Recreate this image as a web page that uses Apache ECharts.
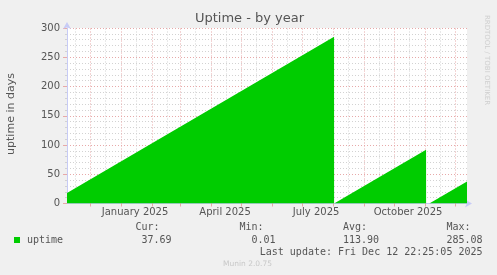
<!DOCTYPE html>
<html>
<head>
<meta charset="utf-8">
<script src="https://cdn.jsdelivr.net/npm/echarts@6/dist/echarts.min.js"></script>
<style>
html,body{margin:0;padding:0;background:#f0f0f0;}
#c{width:497px;height:275px;}
</style>
</head>
<body>
<div id="c"></div>
<script>
// ---- data ----
const uptimeTimes = ['2024-11-07 22:25', '2025-08-02 00:00', '2025-08-02 01:00', '2025-11-02 00:00', '2025-11-02 01:00', '2025-11-05 05:51', '2025-12-12 22:25'];
const uptimeDays  = [18.0, 285.08, 0.01, 91.8, 0, 0.01, 37.69];
const xLabelDates = ['2025-01-15 00:00', '2025-04-15 00:00', '2025-07-15 00:00', '2025-10-15 00:00'];
const xLabelTexts = ['January 2025', 'April 2025', 'July 2025', 'October 2025'];
const yTicks = [0, 50, 100, 150, 200, 250, 300];
const statLabels = ['Cur:', 'Min:', 'Avg:', 'Max:'];
const statValues = ['37.69', '0.01', '113.90', '285.08'];
const seriesName = 'uptime';
const lastUpdate = 'Last update: Fri Dec 12 22:25:05 2025';
const rangeStart = '2024-11-07 22:25';
const rangeEnd = '2025-12-12 22:25';

function ts(s){
  const [d,t] = s.split(' ');
  const [y,m,dd] = d.split('-').map(Number);
  const [hh,mm] = t.split(':').map(Number);
  return Date.UTC(y, m-1, dd, hh, mm);
}
const xMin = ts(rangeStart), xMax = ts(rangeEnd);
const seriesData = uptimeTimes.map((t,i)=>[ts(t), uptimeDays[i]]);
const labelVals = xLabelDates.map(ts);

// grid lines: 1st of each month (major), 16th (minor)
const majorX = [], minorX = [];
for (let y = 2024; y <= 2025; y++) {
  for (let m = 0; m < 12; m++) {
    const a = Date.UTC(y, m, 1), b = Date.UTC(y, m, 16);
    if (a > xMin && a < xMax) majorX.push(a);
    if (b > xMin && b < xMax) minorX.push(b);
  }
}
const RED = '#e7a9a9', GRAY = '#d2d2d2', AXIS = '#c7cbf6', TXT = '#555555';
const MONO = '10px "DejaVu Sans Mono", monospace';

const chart = echarts.init(document.getElementById('c'), null, {renderer:'canvas'});
const markData = majorX.map(v=>({xAxis:v, lineStyle:{color:RED, type:[1,2], width:1}}))
  .concat(minorX.map(v=>({xAxis:v, lineStyle:{color:GRAY, type:[1,2], width:1}})));

const graphics = [
  {type:'text', x:249.5, y:19, style:{text:'Uptime - by year', font:'13px "DejaVu Sans"', fill:TXT, align:'center', verticalAlign:'middle'}},
  {type:'text', x:11, y:114, rotation:Math.PI/2, style:{text:'uptime in days', font:'11px "DejaVu Sans"', fill:TXT, align:'center', verticalAlign:'middle'}},
  {type:'text', x:487, y:60, rotation:-Math.PI/2, style:{text:'RRDTOOL / TOBI OETIKER', font:'7px "DejaVu Sans"', fill:'#cfcfcf', align:'center', verticalAlign:'middle'}},
  {type:'rect', shape:{x:14, y:237, width:6, height:6}, style:{fill:'#00cc00'}},
  {type:'text', x:27, y:240.5, style:{text:seriesName, font:MONO, fill:TXT, align:'left', verticalAlign:'middle'}},
  {type:'text', x:482.5, y:252.5, style:{text:lastUpdate, font:MONO, fill:TXT, align:'right', verticalAlign:'middle'}},
  {type:'text', x:247.5, y:264, style:{text:'Munin 2.0.75', font:'7.5px "DejaVu Sans"', fill:'#c8c8c8', align:'center', verticalAlign:'middle'}}
];
const labRight = [159.5, 263.5, 367, 470.5];
const valRight = [171.5, 275.5, 379, 482.5];
statLabels.forEach((s,i)=>{
  graphics.push({type:'text', x:labRight[i], y:227.5, style:{text:s, font:MONO, fill:TXT, align:'right', verticalAlign:'middle'}});
  graphics.push({type:'text', x:valRight[i], y:240.5, style:{text:statValues[i], font:MONO, fill:TXT, align:'right', verticalAlign:'middle'}});
});

chart.setOption({
  animation:false,
  backgroundColor:'#f0f0f0',
  grid:{left:67, top:28, width:400, height:175.5, show:true, backgroundColor:'#ffffff', borderWidth:0},
  xAxis:{
    type:'value', min:xMin, max:xMax,
    axisLine:{show:true, lineStyle:{color:AXIS, width:1}, symbol:['none','arrow'], symbolSize:[6,7], symbolOffset:[0,5]},
    axisTick:{show:true, customValues:majorX, length:3, lineStyle:{color:RED}},
    axisLabel:{show:true, customValues:labelVals, formatter:(v)=>{const i=labelVals.indexOf(v); return i>=0?xLabelTexts[i]:'';}, color:TXT, fontFamily:'DejaVu Sans', fontSize:10, margin:4},
    splitLine:{show:false}
  },
  yAxis:{
    type:'value', min:yTicks[0], max:yTicks[yTicks.length-1], interval:50,
    axisLine:{show:true, lineStyle:{color:AXIS, width:1}, symbol:['none','arrow'], symbolSize:[6,7], symbolOffset:[0,6]},
    axisTick:{show:true, length:4, lineStyle:{color:RED}},
    minorTick:{show:true, splitNumber:5, length:2, lineStyle:{color:GRAY}},
    axisLabel:{color:TXT, fontFamily:'DejaVu Sans', fontSize:10, margin:7},
    splitLine:{show:true, lineStyle:{color:RED, type:[1,2]}},
    minorSplitLine:{show:true, lineStyle:{color:GRAY, type:[1,2]}}
  },
  graphic:graphics,
  series:[
    {type:'line', data:[[xMin,null]], z:1, silent:true, symbol:'none',
     markLine:{z:1, silent:true, symbol:['none','none'], label:{show:false}, data:markData, animation:false}},
    {type:'line', name:seriesName, data:seriesData, z:3, symbol:'none', showSymbol:false,
     lineStyle:{width:0, color:'#00cc00'}, areaStyle:{color:'#00cc00', opacity:1}}
  ]
});
</script>
</body>
</html>
